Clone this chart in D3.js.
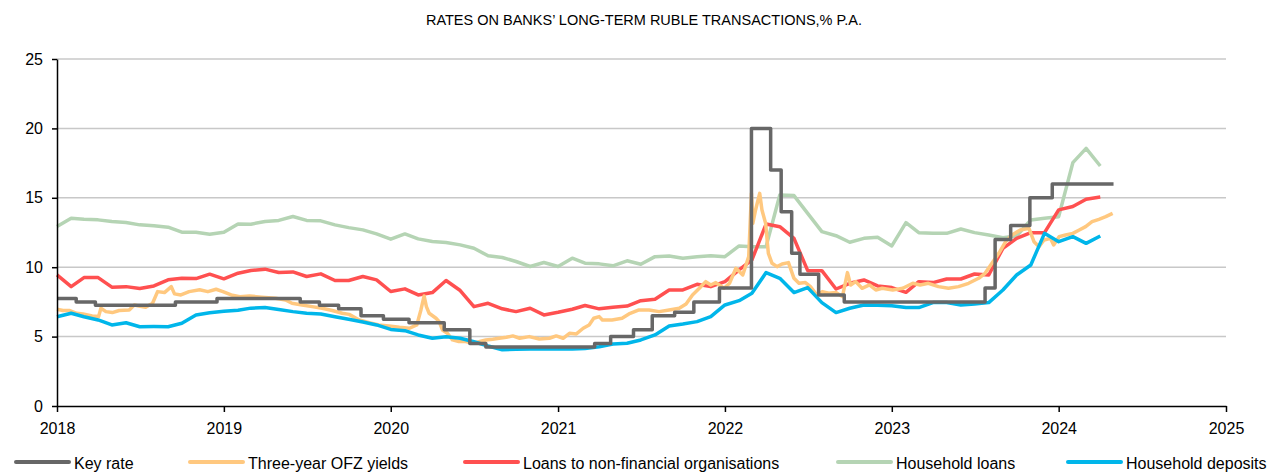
<!DOCTYPE html>
<meta charset="utf-8">
<head>
  <script src="https://d3js.org/d3.v7.min.js"></script>
</head>
<style>
body { margin: 0; background: #fff; }
svg { font-family: "Liberation Sans Narrow", "Liberation Sans", Arial, sans-serif; }
.line { fill: none; stroke-width: 3.5; stroke-linejoin: round; }
.grid line { stroke: #c8c8c8; stroke-width: 1.5; }
.axis path, .axis line { stroke: #000; stroke-width: 1.5; }
.axis text { font-size: 16px; fill: #000; }
.legend text { font-size: 16px; fill: #000; }
</style>
<body>
<div id="chart"></div>
<script>

// monthly series, Jan 2018 .. Apr 2024
var deposits = [6.43, 6.68, 6.43, 6.2, 5.84, 6.0, 5.71, 5.72, 5.71, 5.96, 6.56, 6.72,
  6.82, 6.9, 7.05, 7.1, 6.96, 6.8, 6.68, 6.63, 6.43, 6.25, 6.05, 5.84,
  5.52, 5.43, 5.12, 4.88, 4.99, 4.88, 4.63, 4.32, 4.05, 4.08, 4.1, 4.1,
  4.1, 4.1, 4.15, 4.27, 4.47, 4.52, 4.76, 5.12, 5.77, 5.91, 6.08, 6.44,
  7.28, 7.59, 8.12, 9.61, 9.2, 8.17, 8.53, 7.45, 6.73, 7.04, 7.28, 7.25,
  7.23, 7.09, 7.09, 7.45, 7.45, 7.28, 7.35, 7.45, 8.36, 9.44, 10.16, 12.44,
  11.84, 12.2, 11.72, 12.25];

var corpLoans = [9.45, 8.6, 9.25, 9.25, 8.56, 8.6, 8.46, 8.65, 9.09, 9.2, 9.18, 9.5,
  9.16, 9.57, 9.76, 9.86, 9.62, 9.66, 9.33, 9.52, 9.04, 9.04, 9.33, 9.09,
  8.25, 8.44, 8.0, 8.17, 9.04, 8.32, 7.16, 7.4, 7.0, 6.8, 7.04, 6.56,
  6.75, 6.97, 7.24, 7.0, 7.12, 7.2, 7.59, 7.69, 8.36, 8.36, 8.77, 8.6,
  8.96, 9.8, 10.52, 13.11, 12.92, 12.08, 9.75, 9.75, 8.43, 8.84, 9.08, 8.65,
  8.53, 8.19, 8.96, 8.89, 9.15, 9.15, 9.51, 9.44, 11.36, 12.08, 12.49, 12.49,
  14.13, 14.37, 14.9, 15.05];

var householdLoans = [12.93, 13.53, 13.46, 13.41, 13.29, 13.22, 13.05, 12.98, 12.88, 12.52, 12.52, 12.38,
  12.52, 13.12, 13.1, 13.29, 13.37, 13.65, 13.37, 13.34, 13.05, 12.85, 12.69, 12.4,
  12.02, 12.4, 12.04, 11.85, 11.78, 11.61, 11.37, 10.82, 10.7, 10.41, 10.05, 10.34,
  10.05, 10.65, 10.29, 10.24, 10.1, 10.46, 10.21, 10.76, 10.81, 10.64, 10.76, 10.83,
  10.76, 11.53, 11.48, 11.48, 15.2, 15.16, 13.88, 12.56, 12.27, 11.8, 12.08, 12.15,
  11.53, 13.21, 12.49, 12.44, 12.44, 12.75, 12.49, 12.32, 12.13, 12.25, 13.4, 13.52,
  13.64, 17.53, 18.56, 17.29];

// key rate decisions
var keyDates = ["2018-01-01", "2018-02-12", "2018-03-26", "2018-09-17", "2018-12-17", "2019-06-17",
  "2019-07-29", "2019-09-09", "2019-10-28", "2019-12-16", "2020-02-10", "2020-04-27",
  "2020-06-22", "2020-07-27", "2021-03-22", "2021-04-26", "2021-06-15", "2021-07-26",
  "2021-09-13", "2021-10-25", "2021-12-20", "2022-02-28", "2022-04-11", "2022-05-04",
  "2022-05-27", "2022-06-14", "2022-07-25", "2022-09-19", "2023-07-24", "2023-08-15",
  "2023-09-18", "2023-10-30", "2023-12-18", "2024-04-30"];
var keyRates = [7.75, 7.5, 7.25, 7.5, 7.75, 7.5,
  7.25, 7.0, 6.5, 6.25, 6.0, 5.5,
  4.5, 4.25, 4.5, 5.0, 5.5, 6.5,
  6.75, 7.5, 8.5, 20, 17, 14,
  11, 9.5, 8.0, 7.5, 8.5, 12,
  13, 15, 16, 16];

// three-year OFZ yields
var ofzDates = ["2018-01-01", "2018-01-14", "2018-01-29", "2018-02-13", "2018-02-27", "2018-03-19",
  "2018-04-02", "2018-04-07", "2018-04-18", "2018-05-02", "2018-05-17", "2018-06-08",
  "2018-06-19", "2018-06-29", "2018-07-14", "2018-07-29", "2018-08-09", "2018-08-24",
  "2018-09-08", "2018-09-15", "2018-09-29", "2018-10-17", "2018-11-09", "2018-11-27",
  "2018-12-15", "2018-12-30", "2019-01-17", "2019-02-05", "2019-02-26", "2019-03-25",
  "2019-04-24", "2019-05-16", "2019-05-30", "2019-06-21", "2019-07-13", "2019-08-04",
  "2019-08-26", "2019-09-17", "2019-10-02", "2019-10-24", "2019-11-15", "2019-12-06",
  "2019-12-28", "2020-01-20", "2020-02-11", "2020-02-27", "2020-03-07", "2020-03-14",
  "2020-03-19", "2020-03-25", "2020-04-09", "2020-04-16", "2020-04-23", "2020-05-04",
  "2020-05-15", "2020-05-29", "2020-06-13", "2020-06-28", "2020-07-12", "2020-07-27",
  "2020-08-11", "2020-08-25", "2020-09-10", "2020-09-24", "2020-10-09", "2020-10-30",
  "2020-11-21", "2020-12-13", "2020-12-28", "2021-01-12", "2021-01-26", "2021-02-10",
  "2021-02-25", "2021-03-10", "2021-03-20", "2021-04-01", "2021-04-08", "2021-04-29",
  "2021-05-21", "2021-06-05", "2021-06-27", "2021-07-19", "2021-08-10", "2021-09-01",
  "2021-09-23", "2021-10-08", "2021-10-22", "2021-11-06", "2021-11-20", "2021-12-01",
  "2021-12-12", "2021-12-30", "2022-01-11", "2022-01-25", "2022-02-09", "2022-02-22",
  "2022-02-28", "2022-03-03", "2022-03-09", "2022-03-18", "2022-03-23", "2022-03-31",
  "2022-04-06", "2022-04-14", "2022-04-25", "2022-05-06", "2022-05-20", "2022-06-01",
  "2022-06-12", "2022-06-26", "2022-07-07", "2022-07-21", "2022-08-02", "2022-08-16",
  "2022-09-01", "2022-09-15", "2022-09-26", "2022-10-03", "2022-10-14", "2022-10-28",
  "2022-11-13", "2022-11-27", "2022-12-11", "2023-01-03", "2023-01-25", "2023-02-16",
  "2023-03-04", "2023-03-22", "2023-04-13", "2023-05-05", "2023-05-27", "2023-06-18",
  "2023-07-10", "2023-07-24", "2023-08-08", "2023-08-23", "2023-09-07", "2023-09-21",
  "2023-10-09", "2023-10-28", "2023-11-08", "2023-11-19", "2023-11-30", "2023-12-14",
  "2023-12-21", "2024-01-02", "2024-01-16", "2024-02-01", "2024-02-15", "2024-02-29",
  "2024-03-14", "2024-03-29", "2024-04-13", "2024-04-28"];
var ofzYields = [6.97, 6.88, 6.88, 6.68, 6.63, 6.49,
  6.44, 7.04, 6.8, 6.73, 6.88, 6.92,
  7.28, 7.21, 7.12, 7.4, 8.24, 8.17,
  8.6, 8.08, 8.0, 8.24, 8.37, 8.24,
  8.41, 8.24, 8.0, 7.88, 7.93, 7.84,
  7.76, 7.64, 7.4, 7.28, 7.16, 7.04,
  6.88, 6.68, 6.6, 6.2, 6.0, 5.84,
  5.77, 5.67, 5.6, 5.84, 6.92, 7.93,
  7.16, 6.68, 6.32, 6.08, 5.48, 5.24,
  4.76, 4.64, 4.64, 4.52, 4.64, 4.76,
  4.81, 4.88, 4.95, 5.05, 4.88, 5.0,
  4.83, 4.88, 5.05, 4.88, 5.24, 5.19,
  5.6, 5.84, 6.32, 6.44, 6.2, 6.2,
  6.32, 6.63, 6.92, 6.92, 6.8, 6.92,
  7.04, 7.35, 8.0, 8.48, 8.96, 8.72,
  8.89, 8.48, 8.84, 9.92, 9.44, 10.76,
  15.32, 13.16, 14.12, 15.32, 14.12, 13.16,
  11.0, 10.28, 10.04, 10.23, 10.33, 9.2,
  8.84, 8.89, 8.6, 8.0, 8.24, 8.12,
  8.17, 7.88, 9.61, 8.72, 8.96, 8.48,
  8.72, 8.36, 8.48, 8.36, 8.48, 8.84,
  8.72, 8.84, 8.6, 8.48, 8.6, 8.84,
  9.2, 9.56, 10.28, 11.0, 11.84, 12.32,
  12.68, 12.8, 11.84, 11.48, 11.96, 12.08,
  11.6, 12.2, 12.32, 12.44, 12.68, 12.92,
  13.28, 13.45, 13.64, 13.88];

var xTicks = [2018, 2019, 2020, 2021, 2022, 2023, 2024, 2025];
var yTicks = [0, 5, 10, 15, 20, 25];
var title = "RATES ON BANKS\u2019 LONG-TERM RUBLE TRANSACTIONS,% P.A.";

var parse = d3.timeParse("%Y-%m-%d");
var months = d3.timeMonth.range(new Date(2018, 0, 1), new Date(2024, 4, 1));

var series = [
  { name: "Key rate", colour: "#676767", step: true,
    values: keyDates.map(function(d, i) { return { date: parse(d), v: keyRates[i] }; }) },
  { name: "Three-year OFZ yields", colour: "#FFC87F",
    values: ofzDates.map(function(d, i) { return { date: parse(d), v: ofzYields[i] }; }) },
  { name: "Loans to non-financial organisations", colour: "#FF5050",
    values: months.map(function(d, i) { return { date: d, v: corpLoans[i] }; }) },
  { name: "Household loans", colour: "#B5D4B4",
    values: months.map(function(d, i) { return { date: d, v: householdLoans[i] }; }) },
  { name: "Household deposits", colour: "#00B6EA",
    values: months.map(function(d, i) { return { date: d, v: deposits[i] }; }) }
];
// drawing order: green under the rest
var drawOrder = [3, 2, 1, 4, 0];

var W = 1274, H = 475;
var margin = { top: 59, right: 48, bottom: 69, left: 57 };
var width = W - margin.left - margin.right;
var height = H - margin.top - margin.bottom;

var svg = d3.select("#chart").append("svg")
  .attr("width", W)
  .attr("height", H);

svg.append("text")
  .attr("x", 644)
  .attr("y", 25)
  .attr("text-anchor", "middle")
  .style("font-size", "14.5px")
  .text(title);

var g = svg.append("g")
  .attr("transform", "translate(" + margin.left + "," + margin.top + ")");

var x = d3.scaleTime()
  .domain([new Date(2018, 0, 1), new Date(2025, 0, 1)])
  .range([0, width]);
var y = d3.scaleLinear()
  .domain([0, 25])
  .range([height, 0]);

g.append("g")
  .attr("class", "grid")
  .selectAll("line")
  .data(yTicks.slice(1))
  .enter().append("line")
    .attr("x1", 0)
    .attr("x2", width)
    .attr("y1", function(d) { return y(d); })
    .attr("y2", function(d) { return y(d); });

var line = d3.line()
  .x(function(d) { return x(d.date); })
  .y(function(d) { return y(d.v); });
var stepLine = d3.line()
  .curve(d3.curveStepAfter)
  .x(function(d) { return x(d.date); })
  .y(function(d) { return y(d.v); });

g.append("g").selectAll("path")
  .data(drawOrder.map(function(i) { return series[i]; }))
  .enter().append("path")
    .attr("class", "line")
    .attr("d", function(d) { return d.step ? stepLine(d.values) : line(d.values); })
    .style("stroke", function(d) { return d.colour; });

g.append("g")
  .attr("class", "x axis")
  .attr("transform", "translate(0," + height + ")")
  .call(d3.axisBottom(x)
    .tickValues(xTicks.map(function(t) { return new Date(t, 0, 1); }))
    .tickFormat(d3.timeFormat("%Y"))
    .tickSizeInner(6).tickSizeOuter(0).tickPadding(11));

g.append("g")
  .attr("class", "y axis")
  .call(d3.axisLeft(y)
    .tickValues(yTicks)
    .tickSizeInner(5).tickSizeOuter(0).tickPadding(9));

// legend
var legendX = [16, 190, 465, 838, 1068];
var legend = svg.append("g").attr("class", "legend");
var item = legend.selectAll("g")
  .data(series)
  .enter().append("g")
    .attr("transform", function(d, i) { return "translate(" + legendX[i] + ",462)"; });
item.append("line")
  .attr("x1", 0).attr("x2", 53)
  .attr("stroke-width", 4)
  .attr("stroke-linecap", "round")
  .style("stroke", function(d) { return d.colour; });
item.append("text")
  .attr("x", 58)
  .attr("y", 7)
  .text(function(d) { return d.name; });

</script>
</body>
